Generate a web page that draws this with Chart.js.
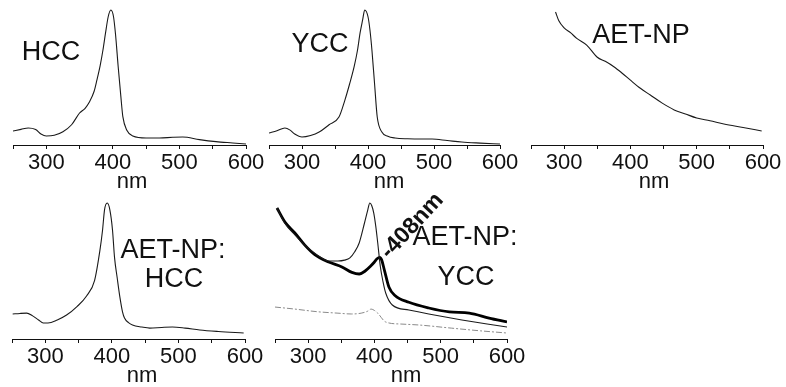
<!DOCTYPE html>
<html>
<head>
<meta charset="utf-8">
<script src="https://cdn.jsdelivr.net/npm/chart.js@4.4.1/dist/chart.umd.min.js"></script>
<style>
  body { margin: 0; background: #fff; }
  #fig { position: relative; width: 786px; height: 387px; overflow: hidden; background: #fff; }
  #fig canvas { position: absolute; }
</style>
</head>
<body>
<div id="fig"></div>
<script>
// UV-vis spectra, wavelength in nm, absorbance in arbitrary units
const hccNm  = [250, 262, 273, 284, 292, 300, 312, 325, 338, 350, 358, 365, 372, 376, 381, 385, 389, 393, 397, 401, 404, 408, 412, 415, 421, 430, 450, 470, 490, 505, 530, 555, 580, 600];
const hccAbs = [0.104, 0.116, 0.126, 0.115, 0.082, 0.067, 0.072, 0.098, 0.150, 0.237, 0.270, 0.320, 0.400, 0.480, 0.590, 0.700, 0.830, 0.950, 1.000, 0.950, 0.820, 0.580, 0.360, 0.210, 0.110, 0.067, 0.052, 0.052, 0.057, 0.059, 0.040, 0.025, 0.015, 0.007];

const yccNm  = [250, 262, 274, 282, 289, 300, 313, 326, 341, 356, 365, 372, 379, 384, 388, 392, 395, 400, 403, 406, 410, 414, 421, 430, 441, 460, 482, 497, 520, 542, 570, 600];
const yccAbs = [0.089, 0.105, 0.126, 0.110, 0.081, 0.059, 0.070, 0.096, 0.150, 0.207, 0.333, 0.450, 0.580, 0.700, 0.830, 0.930, 1.000, 0.950, 0.850, 0.700, 0.450, 0.207, 0.096, 0.065, 0.052, 0.046, 0.044, 0.044, 0.033, 0.022, 0.014, 0.007];

const npNm  = [287, 292, 300, 310, 319, 334, 350, 362, 375, 388, 400, 415, 430, 448, 466, 483, 500, 520, 541, 570, 598];
const npAbs = [0.985, 0.92, 0.867, 0.83, 0.79, 0.74, 0.65, 0.62, 0.58, 0.53, 0.48, 0.42, 0.37, 0.31, 0.26, 0.23, 0.20, 0.18, 0.156, 0.13, 0.104];

const npHccNm  = [251, 262, 272, 281, 290, 297, 304, 318, 332, 348, 362, 374, 382, 386, 389, 393, 397, 401, 404, 408, 412, 416, 419, 425, 431, 445, 457, 475, 491, 510, 532, 560, 598];
const npHccAbs = [0.184, 0.188, 0.19, 0.17, 0.14, 0.118, 0.118, 0.14, 0.176, 0.24, 0.316, 0.43, 0.65, 0.80, 0.95, 1.0, 0.95, 0.80, 0.60, 0.45, 0.31, 0.20, 0.154, 0.12, 0.103, 0.088, 0.08, 0.085, 0.088, 0.08, 0.066, 0.055, 0.044];

// AET-NP:YCC complex (thick), YCC + AET-NP reference (thin), difference (dash-dot)
const npYccNm  = [253, 265, 280, 295, 310, 331, 351, 366, 377, 386, 394, 400, 404, 408, 411, 415, 422, 431, 452, 482, 513, 543, 573, 600];
const npYccAbs = [0.963, 0.86, 0.78, 0.69, 0.62, 0.566, 0.53, 0.49, 0.478, 0.50, 0.535, 0.566, 0.59, 0.60, 0.58, 0.507, 0.38, 0.32, 0.27, 0.228, 0.199, 0.19, 0.154, 0.125];
const sumNm  = [253, 265, 280, 295, 310, 331, 345, 355, 363, 370, 377, 385, 390, 393, 396, 399, 402, 405, 409, 413, 417, 427, 452, 482, 532, 570, 600];
const sumAbs = [0.963, 0.85, 0.765, 0.69, 0.63, 0.574, 0.574, 0.58, 0.596, 0.64, 0.706, 0.853, 0.95, 1.0, 0.98, 0.926, 0.83, 0.706, 0.53, 0.42, 0.338, 0.25, 0.213, 0.184, 0.14, 0.11, 0.088];
const diffNm  = [250, 280, 315, 345, 365, 380, 390, 395, 400, 405, 417, 440, 467, 516, 560, 600];
const diffAbs = [0.235, 0.22, 0.20, 0.19, 0.184, 0.19, 0.205, 0.22, 0.21, 0.19, 0.125, 0.11, 0.103, 0.08, 0.06, 0.044];

const xTicks = [300, 400, 500, 600];
const peakNm = 408;

Chart.defaults.font.family = '"Liberation Sans", Arial, sans-serif';
Chart.defaults.color = '#111';

const FONT = '"Liberation Sans", Arial, sans-serif';
const fig = document.getElementById('fig');

function pts(xs, ys) {
  return xs.map((x, i) => ({ x, y: ys[i] }));
}

function line(xs, ys, style) {
  return Object.assign({
    data: pts(xs, ys),
    borderColor: '#1a1a1a',
    borderWidth: 1.1,
    pointRadius: 0,
    fill: false,
    cubicInterpolationMode: 'monotone'
  }, style || {});
}

// text drawn on top of each panel (page coordinates, or data coordinates via "at")
function notes(items, left, top) {
  return {
    id: 'notes',
    afterDraw(chart) {
      const ctx = chart.ctx;
      items.forEach(n => {
        ctx.save();
        ctx.font = n.font;
        ctx.fillStyle = '#111';
        ctx.textAlign = n.align || 'center';
        ctx.textBaseline = n.baseline || 'alphabetic';
        let x, y;
        if (n.at) {
          x = chart.scales.x.getPixelForValue(n.at[0]) + n.dx;
          y = chart.scales.y.getPixelForValue(n.at[1]) + n.dy;
        } else {
          x = n.x - left;
          y = n.y - top;
        }
        ctx.translate(x, y);
        ctx.rotate(n.rot || 0);
        ctx.fillText(n.text, 0, 0);
        ctx.restore();
      });
    }
  };
}

const Y_MAX = 1.05;
const SCALE_H = 34;

function addPanel(p) {
  const c = document.createElement('canvas');
  c.width = p.w;
  c.height = p.h;
  c.style.left = p.left + 'px';
  c.style.top = p.top + 'px';
  fig.appendChild(c);

  const plotTop = p.axisY - Y_MAX * p.unit;
  new Chart(c, {
    type: 'line',
    data: { datasets: p.datasets },
    options: {
      responsive: false,
      animation: false,
      layout: {
        autoPadding: false,
        padding: {
          left: p.x0 - p.left,
          right: p.left + p.w - p.x1,
          top: plotTop - p.top,
          bottom: p.top + p.h - p.axisY - SCALE_H
        }
      },
      plugins: { legend: { display: false }, tooltip: { enabled: false } },
      scales: {
        x: {
          type: 'linear',
          min: 250,
          max: 600,
          afterFit(scale) { scale.height = SCALE_H; },
          ticks: {
            stepSize: 50,
            maxRotation: 0,
            autoSkip: false,
            padding: 1,
            color: '#111',
            font: { size: 22 },
            callback: v => xTicks.includes(v) ? String(v) : ''
          },
          grid: { drawOnChartArea: false, drawTicks: true, tickLength: 4, color: '#111' },
          border: { display: true, color: '#111', width: 1 }
        },
        y: { display: false, min: 0, max: Y_MAX }
      }
    },
    plugins: [notes(p.notes, p.left, p.top)]
  });
}

const labelFont = '27px ' + FONT;
const nmFont = '22px ' + FONT;

addPanel({
  left: 0, top: 0, w: 275, h: 190,
  x0: 13, x1: 246, axisY: 145, unit: 135,
  datasets: [line(hccNm, hccAbs)],
  notes: [
    { text: 'HCC', x: 51, y: 60, font: labelFont },
    { text: 'nm', x: 132, y: 188, font: nmFont }
  ]
});

addPanel({
  left: 262, top: 0, w: 280, h: 190,
  x0: 269, x1: 500, axisY: 145, unit: 135,
  datasets: [line(yccNm, yccAbs)],
  notes: [
    { text: 'YCC', x: 320, y: 52, font: labelFont },
    { text: 'nm', x: 389, y: 188, font: nmFont }
  ]
});

addPanel({
  left: 524, top: 0, w: 262, h: 190,
  x0: 531, x1: 763, axisY: 145, unit: 135,
  datasets: [line(npNm, npAbs)],
  notes: [
    { text: 'AET-NP', x: 641, y: 43, font: labelFont },
    { text: 'nm', x: 654, y: 188, font: nmFont }
  ]
});

addPanel({
  left: 0, top: 180, w: 275, h: 207,
  x0: 12, x1: 245, axisY: 339, unit: 136,
  datasets: [line(npHccNm, npHccAbs)],
  notes: [
    { text: 'AET-NP:', x: 173, y: 258, font: labelFont },
    { text: 'HCC', x: 174, y: 287, font: labelFont },
    { text: 'nm', x: 142, y: 382, font: nmFont }
  ]
});

addPanel({
  left: 262, top: 170, w: 280, h: 217,
  x0: 275, x1: 507, axisY: 339, unit: 136,
  datasets: [
    line(diffNm, diffAbs, { borderColor: '#8a8a8a', borderWidth: 1, borderDash: [6, 2, 2, 2] }),
    line(sumNm, sumAbs),
    line(npYccNm, npYccAbs, { borderColor: '#000', borderWidth: 2.8 })
  ],
  notes: [
    { text: 'AET-NP:', x: 465, y: 245, font: labelFont },
    { text: 'YCC', x: 466, y: 285, font: labelFont },
    { text: 'nm', x: 406, y: 382, font: nmFont },
    { text: '-' + peakNm + 'nm', at: [peakNm, npYccAbs[npYccNm.indexOf(peakNm)]], dx: 5, dy: -2,
      rot: -0.82, align: 'left', baseline: 'middle', font: 'bold 23px ' + FONT }
  ]
});
</script>
</body>
</html>
